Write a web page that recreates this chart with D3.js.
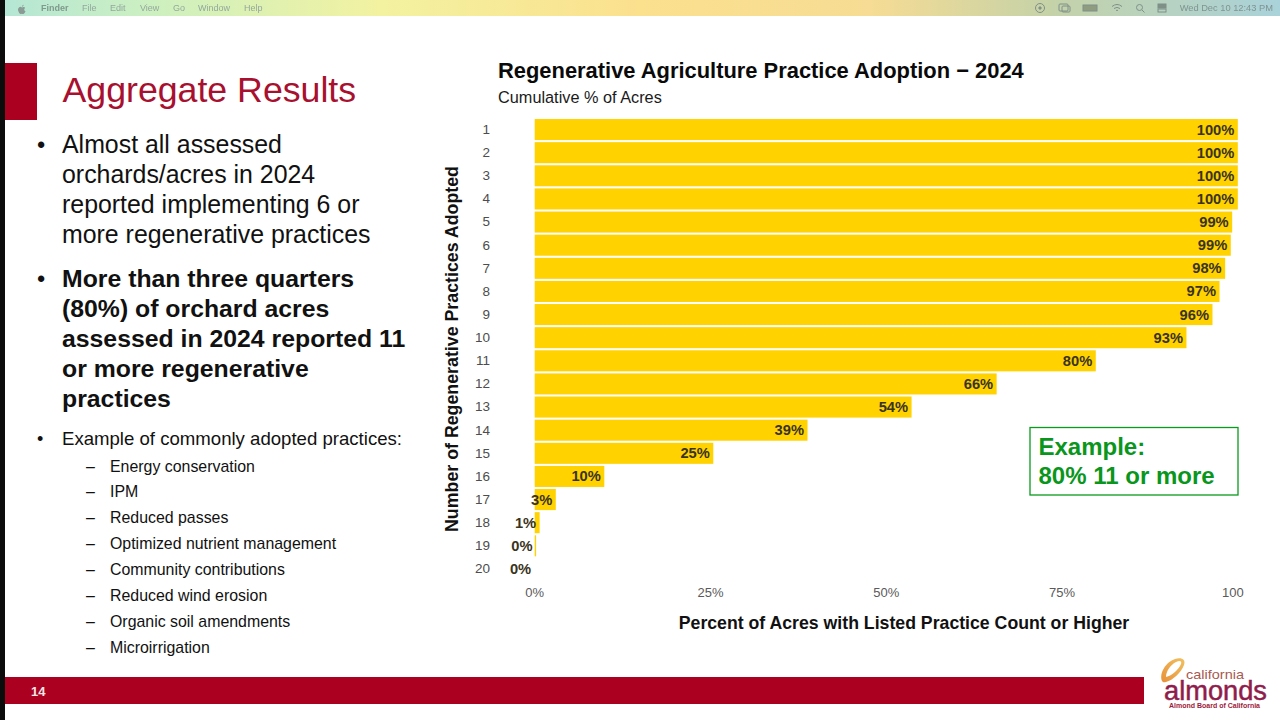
<!DOCTYPE html>
<html>
<head>
<meta charset="utf-8">
<script src="https://cdn.jsdelivr.net/npm/d3@7"></script>
<style>
html,body{margin:0;padding:0;background:#fff;overflow:hidden}
svg{display:block}
text{font-family:"Liberation Sans",Arial,sans-serif}
</style>
</head>
<body>
<svg id="slide" width="1280" height="720"></svg>
<script>
// Chart data
const practiceCounts = d3.range(1, 21).map(String);
const cumulativeValues = [100, 100, 100, 100, 99.2, 99, 98.2, 97.4, 96.4, 92.7, 79.8, 65.7, 53.6, 38.8, 25.4, 9.9, 3, 0.7, 0.2, 0];
const valueLabels = ["100%","100%","100%","100%","99%","99%","98%","97%","96%","93%","80%","66%","54%","39%","25%","10%","3%","1%","0%","0%"];
const xTickValues = [0, 25, 50, 75, 100];
const xTickLabels = ["0%", "25%", "50%", "75%", "100"];

// Slide copy
const menuLeft = ["File", "Edit", "View", "Go", "Window", "Help"];
const menuLeftX = [82, 110, 140, 173, 198, 244];
const bulletOne = ["Almost all assessed", "orchards/acres in 2024", "reported implementing 6 or", "more regenerative practices"];
const bulletTwo = ["More than three quarters", "(80%) of orchard acres", "assessed in 2024 reported 11", "or more regenerative", "practices"];
const practiceList = ["Energy conservation", "IPM", "Reduced passes", "Optimized nutrient management", "Community contributions", "Reduced wind erosion", "Organic soil amendments", "Microirrigation"];

const svg = d3.select("#slide");
const defs = svg.append("defs");

// Desktop menu bar with its wallpaper gradient
const grad = defs.append("linearGradient").attr("id", "menuGrad");
[[0, "#b4e6d6"], [0.12, "#cdf0c0"], [0.3, "#f3f2a0"], [0.5, "#fbe08e"], [0.68, "#f6dc94"], [0.82, "#c5d2a8"], [1, "#a9d2da"]]
  .forEach(([o, c]) => grad.append("stop").attr("offset", o).attr("stop-color", c));
defs.append("filter").attr("id", "soft").append("feGaussianBlur").attr("stdDeviation", 0.35);

svg.append("rect").attr("width", 1280).attr("height", 16).attr("fill", "url(#menuGrad)");
svg.append("rect").attr("width", 5).attr("height", 720).attr("fill", "#0c0c0c");

const menu = svg.append("g").attr("filter", "url(#soft)");
menu.append("path").attr("d", "M19 7.5c1-1 2-.7 3 0 1-.7 2.400-.7 3.200.3-1.500 1-1.200 3 .3 3.500-.5 1.300-1.300 2.700-2.300 2.700-.6 0-.8-.3-1.300-.3s-.8.3-1.300.3c-1.200 0-2.600-2.800-2.600-4.400 0-.8.3-1.600 1-2.100zM22 6.800c0-1 .7-1.800 1.600-2 .1 1-.6 1.900-1.600 2z").attr("fill", "#8a9a94");
menu.append("text").attr("x", 41).attr("y", 11).attr("font-size", 9).attr("font-weight", 700).attr("fill", "#7f9a8c").text("Finder");
menu.selectAll("text.m").data(menuLeft).join("text").attr("class", "m")
  .attr("x", (d, i) => menuLeftX[i])
  .attr("y", 11).attr("font-size", 9).attr("fill", "#94a89c").text(d => d);
menu.append("text").attr("x", 1273).attr("y", 11).attr("text-anchor", "end").attr("font-size", 9.300).attr("fill", "#7f9491").text("Wed Dec 10  12:43 PM");
const icon = menu.append("g").attr("fill", "none").attr("stroke", "#7f9088").attr("stroke-width", 1);
icon.append("circle").attr("cx", 1040).attr("cy", 8).attr("r", 4.5);
icon.append("circle").attr("cx", 1040).attr("cy", 8).attr("r", 1.2).attr("fill", "#7f9088");
icon.append("rect").attr("x", 1059).attr("y", 4).attr("width", 9).attr("height", 7).attr("rx", 1);
icon.append("rect").attr("x", 1062).attr("y", 6).attr("width", 8).attr("height", 6).attr("rx", 1);
icon.append("rect").attr("x", 1083).attr("y", 5).attr("width", 14).attr("height", 6).attr("fill", "#8f9c80");
icon.append("path").attr("d", "M1112 6.500a8 8 0 0 1 10 0M1114 8.500a5 5 0 0 1 6 0M1116 10.500a2 2 0 0 1 2 0");
icon.append("circle").attr("cx", 1139.500).attr("cy", 7.500).attr("r", 3);
icon.append("path").attr("d", "M1142 10l2.500 2.500");
icon.append("rect").attr("x", 1158).attr("y", 4).attr("width", 8).attr("height", 4).attr("fill", "#7f9088");
icon.append("rect").attr("x", 1158).attr("y", 9).attr("width", 8).attr("height", 3);

// Slide header and footer
svg.append("rect").attr("x", 5).attr("y", 63).attr("width", 32).attr("height", 57).attr("fill", "#ab0020");
svg.append("text").attr("x", 62.500).attr("y", 102).attr("font-size", 35.700).attr("fill", "#a8102f").text("Aggregate Results");
svg.append("rect").attr("x", 5).attr("y", 677).attr("width", 1139).attr("height", 27).attr("fill", "#ab0020");
svg.append("text").attr("x", 31).attr("y", 695.500).attr("font-size", 13).attr("font-weight", 700).attr("fill", "#f4e6e6").text("14");

// Left-hand bullet copy
const copy = svg.append("g").attr("fill", "#111");
function bullet(x, y, size) {
  copy.append("text").attr("x", x).attr("y", y).attr("font-size", size).text("•");
}
function block(lines, x, y0, step, size, weight) {
  copy.selectAll(null).data(lines).join("text")
    .attr("x", x).attr("y", (d, i) => y0 + i * step)
    .attr("font-size", size).attr("font-weight", weight).text(d => d);
}
bullet(37, 152.500, 23.500);
block(bulletOne, 62, 152.500, 30, 24.900, 400);
bullet(37, 287, 23.500);
block(bulletTwo, 62, 287, 30, 24.800, 700);
bullet(37, 445, 18);
block(["Example of commonly adopted practices:"], 62, 445, 0, 18.600, 400);
copy.selectAll("text.dash").data(practiceList).join("text").attr("class", "dash")
  .attr("x", 86).attr("y", (d, i) => 471.500 + i * 25.9).attr("font-size", 15.900).text("–");
block(practiceList, 110, 471.500, 25.9, 15.900, 400);

// Bar chart
const x = d3.scaleLinear().domain([0, 100]).range([534.700, 1237.800]);
const y = d3.scaleBand().domain(practiceCounts).range([118, 580.500]).paddingInner(0.09).paddingOuter(0.045);

svg.append("text").attr("x", 498).attr("y", 77.500).attr("font-size", 21.900).attr("font-weight", 700).attr("fill", "#0a0a0a")
  .text("Regenerative Agriculture Practice Adoption − 2024");
svg.append("text").attr("x", 498).attr("y", 103).attr("font-size", 16.300).attr("fill", "#1a1a1a").text("Cumulative % of Acres");

const rows = practiceCounts.map((c, i) => ({ c, v: cumulativeValues[i], label: valueLabels[i] }));
svg.append("g").selectAll("rect").data(rows).join("rect")
  .attr("x", x(0)).attr("y", d => y(d.c))
  .attr("width", d => x(d.v) - x(0)).attr("height", y.bandwidth())
  .attr("fill", "#ffd200");

svg.append("g").selectAll("text").data(rows).join("text")
  .attr("x", d => x(d.v) - 3.500)
  .attr("y", d => y(d.c) + y.bandwidth() / 2 + 5)
  .attr("text-anchor", "end").attr("font-size", 14.700).attr("font-weight", 700).attr("fill", "#3a3320")
  .text(d => d.label);

const yAxis = svg.append("g").attr("transform", "translate(490,0)").call(d3.axisLeft(y).tickSize(0).tickPadding(0));
yAxis.select(".domain").remove();
yAxis.selectAll("text").attr("font-size", 13.500).attr("fill", "#4d4d4d").style("font-family", '"Liberation Sans",Arial,sans-serif');

const xAxis = svg.append("g").attr("transform", "translate(-0.5,588)")
  .call(d3.axisBottom(x).tickValues(xTickValues).tickFormat((d, i) => xTickLabels[i]).tickSize(0).tickPadding(0));
xAxis.select(".domain").remove();
xAxis.selectAll("text").attr("font-size", 13).attr("fill", "#5a5a5a").style("font-family", '"Liberation Sans",Arial,sans-serif');
xAxis.selectAll(".tick:last-of-type text").attr("dx", -5);

svg.append("text").attr("x", 904).attr("y", 629).attr("text-anchor", "middle").attr("font-size", 17.700).attr("font-weight", 700).attr("fill", "#111")
  .text("Percent of Acres with Listed Practice Count or Higher");
svg.append("text").attr("transform", "translate(458,349) rotate(-90)").attr("text-anchor", "middle").attr("font-size", 17.800).attr("font-weight", 700).attr("fill", "#111")
  .text("Number of Regenerative Practices Adopted");

// Worked example callout
svg.append("rect").attr("x", 1030).attr("y", 427.500).attr("width", 208).attr("height", 67.500).attr("fill", "#fff").attr("stroke", "#0a9a1e").attr("stroke-width", 1.300);
svg.selectAll("text.ex").data(["Example:", "80% 11 or more"]).join("text").attr("class", "ex")
  .attr("x", 1038.500).attr("y", (d, i) => 455 + i * 29).attr("font-size", 24).attr("font-weight", 700).attr("fill", "#0a961c").text(d => d);

// Almond Board logo
const logo = svg.append("g");
const shell = defs.append("linearGradient").attr("id", "shellGrad").attr("x1", 0).attr("y1", 1).attr("x2", 1).attr("y2", 0);
shell.append("stop").attr("offset", 0).attr("stop-color", "#e8913a");
shell.append("stop").attr("offset", 1).attr("stop-color", "#f0c060");
logo.append("path").attr("d", "M1162 681c-3-8 4-19 13-22 7-2 11 1 9 6-3 8-11 15-18 17-2 .5-3 .5-4-1zm4-4c6-1 13-8 15-13 1-3-1-4-5-2-6 3-10 10-10 15z").attr("fill", "url(#shellGrad)");
logo.append("text").attr("x", 1186).attr("y", 679).attr("font-size", 13.500).attr("fill", "#a85a50").attr("textLength", 58).attr("lengthAdjust", "spacingAndGlyphs").text("california");
logo.append("text").attr("x", 1164).attr("y", 699.500).attr("font-size", 27).attr("fill", "#8f1d4c").attr("stroke", "#8f1d4c").attr("stroke-width", 0.5).attr("textLength", 103).attr("lengthAdjust", "spacingAndGlyphs").text("almonds");
logo.append("text").attr("x", 1169).attr("y", 708).attr("font-size", 6.500).attr("font-weight", 700).attr("fill", "#a01a3a").attr("textLength", 91).attr("lengthAdjust", "spacingAndGlyphs").text("Almond Board of California");
</script>
</body>
</html>
